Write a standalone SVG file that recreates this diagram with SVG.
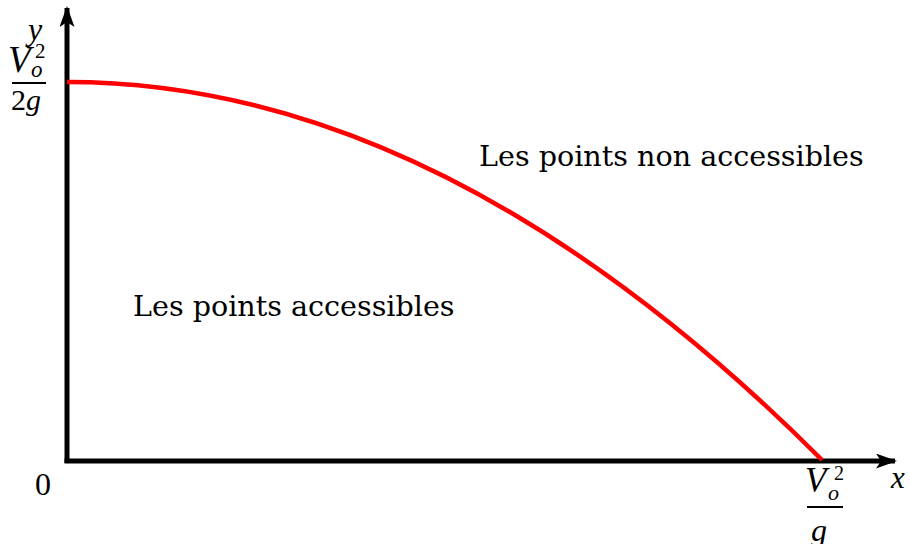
<svg xmlns="http://www.w3.org/2000/svg" width="910" height="544" viewBox="0 0 910 544">
<style>
.lbl{font-family:"DejaVu Serif",serif;font-size:28.6px;fill:#000}
.m{font-family:"Liberation Serif","Times New Roman",serif;fill:#000}
.it{font-style:italic}
.ax{stroke:#000;stroke-width:5;fill:none}
.fr{stroke:#000;stroke-width:2}
</style>
<defs>
<marker id="ah" viewBox="0 0 21 15" refX="19" refY="7.5" markerWidth="21" markerHeight="15" markerUnits="userSpaceOnUse" orient="auto">
<path d="M0,0 L21,7.5 L0,15 L5,7.5 Z" fill="#000"/>
</marker>
</defs>
<g id="connectors">
<path id="y-axis" class="ax" d="M67,463 L67,8" marker-end="url(#ah)"/>
<path id="x-axis" class="ax" d="M64.5,461 L895,461" marker-end="url(#ah)"/>
<path id="curve" d="M67,82 Q444.5,82 822,460" stroke="#ff0000" stroke-width="4.5" fill="none"/>
</g>
<g id="label-accessible"><text class="lbl" x="133" y="316">Les points accessibles</text></g>
<g id="label-non-accessible"><text class="lbl" x="479" y="166">Les points non accessibles</text></g>
<g id="origin"><text class="m" x="35" y="495" font-size="32">0</text></g>
<g id="label-y"><text class="m it" x="28" y="40" font-size="32">y</text></g>
<g id="label-x"><text class="m it" x="891" y="488" font-size="31">x</text></g>
<g id="frac-y">
<text class="m it" x="8" y="72" font-size="37">V</text>
<text class="m" x="35" y="58" font-size="21">2</text>
<text class="m it" x="31" y="77" font-size="23">o</text>
<line class="fr" x1="12" y1="83" x2="46" y2="83"/>
<text class="m" x="11" y="110" font-size="30">2<tspan class="it">g</tspan></text>
</g>
<g id="frac-x">
<text class="m it" x="805" y="492" font-size="35">V</text>
<text class="m" x="834" y="480" font-size="20">2</text>
<text class="m it" x="828" y="500" font-size="22">o</text>
<line class="fr" x1="807" y1="507" x2="843" y2="507"/>
<text class="m it" x="811" y="541" font-size="32">g</text>
</g>
</svg>
